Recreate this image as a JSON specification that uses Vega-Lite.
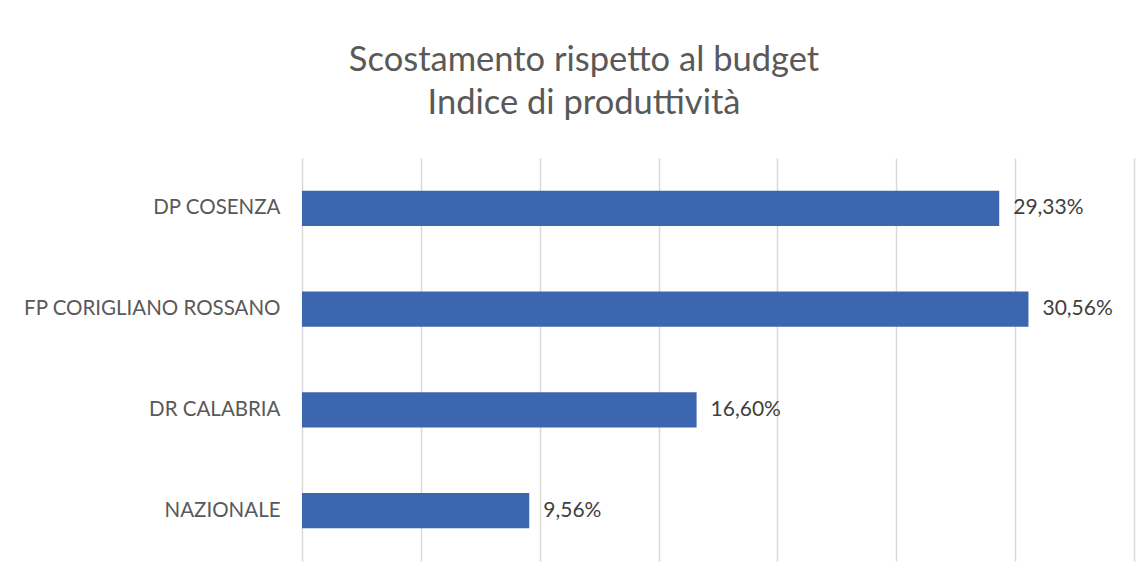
{
  "$schema": "https://vega.github.io/schema/vega-lite/v6.json",
  "width": 832,
  "height": 403,
  "autosize": "none",
  "padding": {"left": 302, "top": 158, "right": 14, "bottom": 20},
  "background": "white",
  "title": {
    "text": ["Scostamento rispetto al budget", "Indice di produttività"],
    "font": "Lato",
    "fontSize": 34.5,
    "fontWeight": "normal",
    "color": "#595959",
    "anchor": "middle",
    "dx": -134,
    "offset": 37,
    "lineHeight": 43
  },
  "data": {
    "values": [
      {"ente": "DP COSENZA", "valore": 29.33, "label": "29,33%"},
      {"ente": "FP CORIGLIANO ROSSANO", "valore": 30.56, "label": "30,56%"},
      {"ente": "DR CALABRIA", "valore": 16.60, "label": "16,60%"},
      {"ente": "NAZIONALE", "valore": 9.56, "label": "9,56%"}
    ]
  },
  "encoding": {
    "y": {
      "field": "ente",
      "type": "nominal",
      "sort": null,
      "scale": {"paddingInner": 0.65, "paddingOuter": 0.325},
      "axis": {
        "title": null,
        "domain": false,
        "ticks": false,
        "labelPadding": 22,
        "labelFont": "Lato",
        "labelFontSize": 20.5,
        "labelColor": "#595959",
        "labelLimit": 400
      }
    },
    "x": {
      "field": "valore",
      "type": "quantitative",
      "scale": {"domain": [0, 35], "nice": false},
      "axis": {
        "title": null,
        "labels": false,
        "ticks": false,
        "domain": false,
        "values": [0, 5, 10, 15, 20, 25, 30, 35],
        "grid": true,
        "gridColor": "#d9d9d9",
        "gridWidth": 1.5
      }
    }
  },
  "layer": [
    {"mark": {"type": "bar", "color": "#3d66b0"}},
    {
      "mark": {"type": "text", "align": "left", "baseline": "middle", "dx": 14, "font": "Lato", "fontSize": 21, "color": "#404040"},
      "encoding": {"text": {"field": "label"}}
    }
  ],
  "config": {"view": {"stroke": null}}
}
